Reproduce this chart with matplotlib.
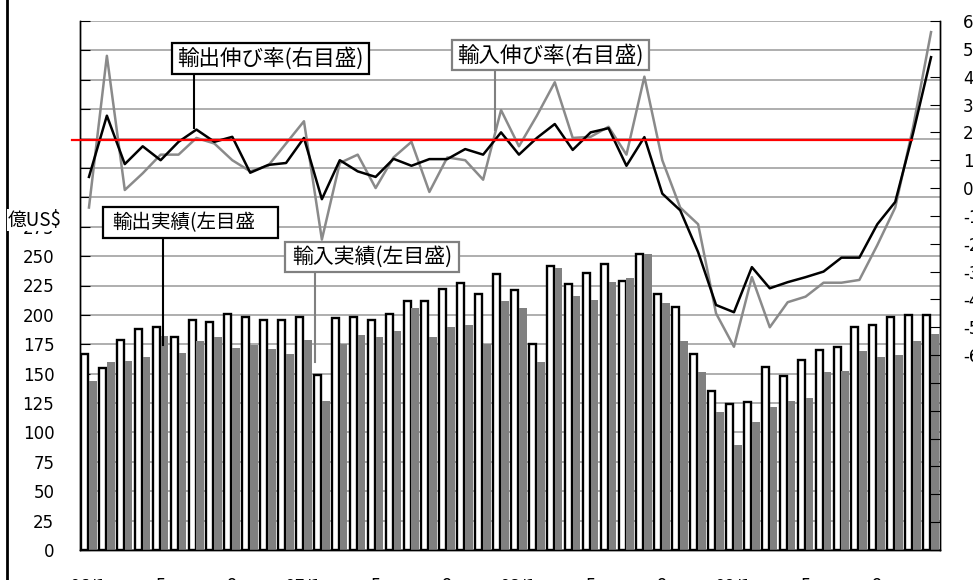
import matplotlib
matplotlib.use("Agg")
import matplotlib.pyplot as plt
from matplotlib.patches import Rectangle
from matplotlib.lines import Line2D
import numpy as np

plt.rcParams['font.family'] = ['DejaVu Sans', 'Noto Sans CJK JP']
JP = ['Noto Sans CJK JP', 'DejaVu Sans']

# monthly data, 2006/1 .. 2009/12
tick_labels = ["06/1", "5", "9", "07/1", "5", "9", "08/1", "5", "9", "09/1", "5", "9"]
tick_months = [0, 4, 8, 12, 16, 20, 24, 28, 32, 36, 40, 44]

exports = [167, 155, 179, 188, 190, 181, 196, 194, 201, 198, 196, 196,
           198, 149, 197, 198, 196, 201, 212, 212, 222, 227, 218, 235,
           221, 175, 242, 226, 236, 243, 229, 252, 218, 207, 167, 135,
           124, 126, 156, 148, 162, 170, 173, 190, 191, 198, 200, 200]
imports = [144, 160, 161, 164, 182, 168, 178, 181, 172, 174, 171, 167,
           179, 127, 175, 183, 181, 186, 206, 181, 190, 191, 175, 212,
           206, 160, 240, 216, 213, 228, 231, 252, 210, 178, 151, 117,
           89, 109, 122, 127, 129, 151, 152, 169, 164, 166, 178, 184]
export_growth = [4, 26, 8.6, 15, 10, 16.6, 21, 16.6, 18.4, 5.5, 8.3, 9,
                 18, -4, 10, 6, 4, 10.5, 8, 10.4, 10.4, 14, 12, 20,
                 12, 18, 23, 13.7, 20, 21.5, 8, 18.3, -2, -8, -23, -42,
                 -44.6, -28.4, -36, -33.8, -32, -30, -25, -25, -13, -5, 19.8, 47]
import_growth = [-7, 47.5, -0.7, 5.3, 12, 12, 18, 16, 10, 6, 8, 16,
                 24, -18.5, 9, 12, 0, 11, 16.6, -1.4, 11, 10, 3, 28,
                 15, 26, 38, 18, 18.4, 22, 12, 40, 10, -7, -13, -45,
                 -57, -32, -50, -41, -39, -34, -34, -33, -20.5, -7, 22, 56]
red_level = 17.4

W, H = 973, 580
fig = plt.figure(figsize=(W / 100, H / 100), dpi=100)


def fx(x):
    return x / W


def fy(y):
    return 1 - y / H


ax = fig.add_axes([fx(80), fy(550), fx(940) - fx(80), fy(21) - fy(550)])
ax2 = ax.twinx()

x = np.arange(len(exports))
ax.bar(x - 0.245, exports, width=0.39, color="white", edgecolor="black",
       linewidth=1.7, zorder=2)
ax.bar(x + 0.215, imports, width=0.43, color="#808080", linewidth=0, zorder=3)

ax.set_xlim(-0.5, len(exports) - 0.5)
ax.set_ylim(0, 450)
ax.set_yticks(range(0, 451, 25))
ax.set_yticklabels([str(v) if v <= 275 else "" for v in range(0, 451, 25)])
ax.yaxis.grid(True, color="#a8a8a8", linewidth=1.3, zorder=0)
ax.set_axisbelow(True)
ax.set_xticks(tick_months)
ax.set_xticklabels(tick_labels)
ax.tick_params(axis="x", length=0, pad=19.5, labelsize=12)
ax.tick_params(axis="y", direction="in", length=7, pad=18.5, labelsize=12)

ax2.plot(x, import_growth, color="#8a8a8a", linewidth=1.8, zorder=3)
ax2.plot(x, export_growth, color="black", linewidth=1.8, zorder=4)
ax2.plot([-0.95, 45.95], [red_level, red_level], color="#ff0000",
         linewidth=1.6, clip_on=False, zorder=5)
ax2.set_ylim(-130, 60)
ax2.set_yticks(range(-130, 61, 10))
ax2.set_yticklabels([str(v) if v >= -60 else "" for v in range(-130, 61, 10)])
ax2.tick_params(axis="y", direction="in", length=7, pad=16.5, labelsize=12)

for a in (ax, ax2):
    a.spines["top"].set_visible(False)
    a.spines["left"].set_linewidth(1.0)
    a.spines["right"].set_linewidth(1.0)
    a.spines["bottom"].set_linewidth(1.0)


def label_box(x0, y0, x1, y1, text, color, size, tx=None):
    fig.add_artist(Rectangle((fx(x0), fy(y1)), fx(x1) - fx(x0), fy(y0) - fy(y1),
                             transform=fig.transFigure, facecolor="white",
                             edgecolor=color, linewidth=1.6, zorder=10))
    if tx is None:
        fig.text(fx((x0 + x1) / 2), fy((y0 + y1) / 2), text, ha="center", va="center",
                 family=JP, fontsize=size, zorder=11)
    else:
        fig.text(fx(tx), fy((y0 + y1) / 2), text, ha="left", va="center",
                 family=JP, fontsize=size, zorder=11)


def pointer(xp, y0, y1, color):
    fig.add_artist(Line2D([fx(xp), fx(xp)], [fy(y0), fy(y1)], color=color,
                          linewidth=1.5, zorder=9))


pointer(194, 74, 128, "black")
label_box(172, 43, 369, 74, "輸出伸び率(右目盛)", "black", 15.5)
pointer(495, 70, 130, "#808080")
label_box(452, 40, 649, 70, "輸入伸び率(右目盛)", "#808080", 15.5)
pointer(163, 238, 345, "black")
label_box(103, 207, 278, 238, "輸出実績(左目盛", "black", 14, tx=112)
pointer(315, 272, 362, "#808080")
label_box(285, 242, 459, 272, "輸入実績(左目盛)", "#808080", 15)

fig.text(fx(8), fy(220), "億US$", ha="left", va="center", family=JP, fontsize=13.5,
         bbox=dict(boxstyle="square,pad=0.05", fc="white", ec="none"))

# outer chart frame (only the left edge is inside the crop)
fig.add_artist(Line2D([fx(7), fx(7)], [0, 1], color="black", linewidth=2))

fig.savefig("out.png", dpi=100)
